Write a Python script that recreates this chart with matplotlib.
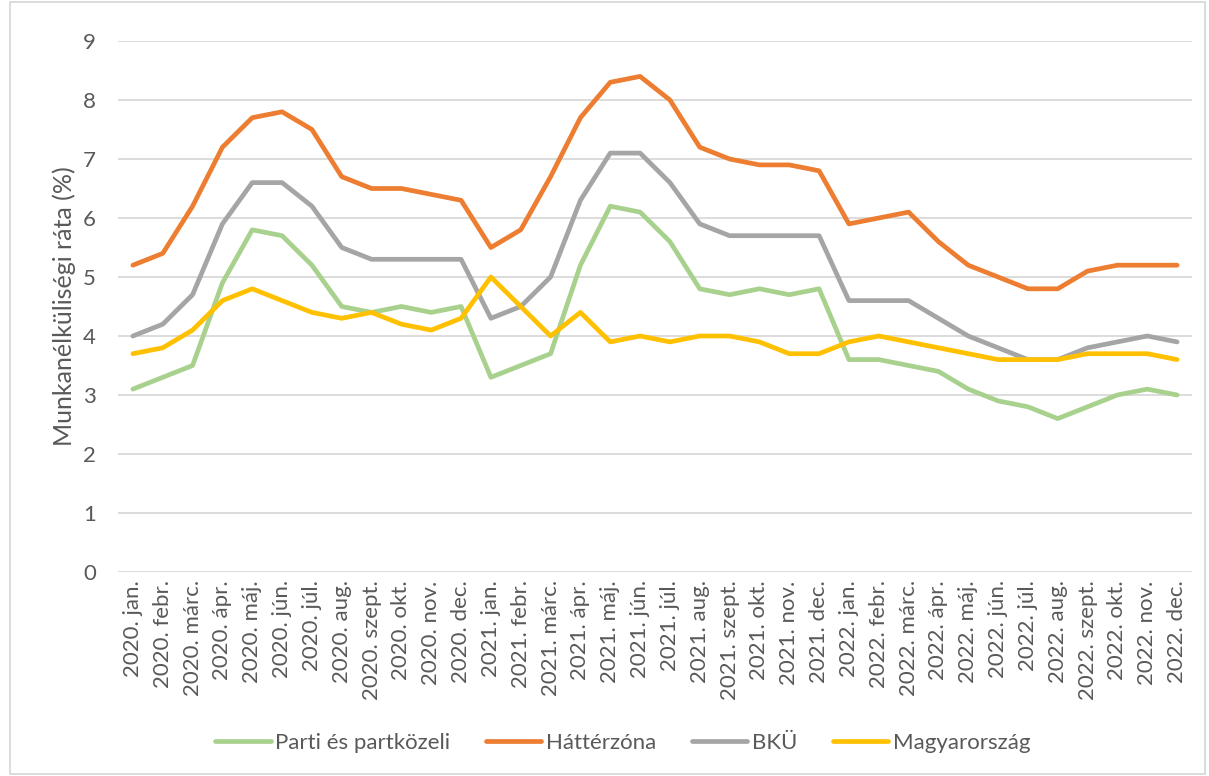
import matplotlib
matplotlib.use("Agg")
import matplotlib.pyplot as plt
from matplotlib.patches import Rectangle

plt.rcParams['font.family'] = ['Lato', 'DejaVu Sans']

months = ["jan.", "febr.", "márc.", "ápr.", "máj.", "jún.", "júl.", "aug.",
          "szept.", "okt.", "nov.", "dec."]
categories = [f"{y}. {m}" for y in (2020, 2021, 2022) for m in months]

parti = [3.1, 3.3, 3.5, 4.9, 5.8, 5.7, 5.2, 4.5, 4.4, 4.5, 4.4, 4.5,
         3.3, 3.5, 3.7, 5.2, 6.2, 6.1, 5.6, 4.8, 4.7, 4.8, 4.7, 4.8,
         3.6, 3.6, 3.5, 3.4, 3.1, 2.9, 2.8, 2.6, 2.8, 3.0, 3.1, 3.0]
hatter = [5.2, 5.4, 6.2, 7.2, 7.7, 7.8, 7.5, 6.7, 6.5, 6.5, 6.4, 6.3,
          5.5, 5.8, 6.7, 7.7, 8.3, 8.4, 8.0, 7.2, 7.0, 6.9, 6.9, 6.8,
          5.9, 6.0, 6.1, 5.6, 5.2, 5.0, 4.8, 4.8, 5.1, 5.2, 5.2, 5.2]
bku = [4.0, 4.2, 4.7, 5.9, 6.6, 6.6, 6.2, 5.5, 5.3, 5.3, 5.3, 5.3,
       4.3, 4.5, 5.0, 6.3, 7.1, 7.1, 6.6, 5.9, 5.7, 5.7, 5.7, 5.7,
       4.6, 4.6, 4.6, 4.3, 4.0, 3.8, 3.6, 3.6, 3.8, 3.9, 4.0, 3.9]
magyar = [3.7, 3.8, 4.1, 4.6, 4.8, 4.6, 4.4, 4.3, 4.4, 4.2, 4.1, 4.3,
          5.0, 4.5, 4.0, 4.4, 3.9, 4.0, 3.9, 4.0, 4.0, 3.9, 3.7, 3.7,
          3.9, 4.0, 3.9, 3.8, 3.7, 3.6, 3.6, 3.6, 3.7, 3.7, 3.7, 3.6]

series = [("Parti és partközeli", parti, "#A9D18E"),
          ("Háttérzóna", hatter, "#ED7D31"),
          ("BKÜ", bku, "#A5A5A5"),
          ("Magyarország", magyar, "#FFC000")]

TXT = "#595959"
fig = plt.figure(figsize=(12.09, 7.76), dpi=100)
ax = fig.add_axes([118/1209, 1-572/776, (1192-118)/1209, (572-41)/776])

x = list(range(len(categories)))
for name, vals, col in series:
    ax.plot(x, vals, color=col, lw=3.4, label=name, solid_capstyle='round',
            solid_joinstyle='round')

ax.set_xlim(-0.5, len(categories) - 0.5)
ax.set_ylim(0, 9)
ax.set_yticks(range(0, 10))
ax.yaxis.grid(True, color="#D9D9D9", lw=1.3)
ax.set_axisbelow(True)
for s in ax.spines.values():
    s.set_visible(False)
ax.set_xticks(x)
ax.set_xticklabels(categories, rotation=90, fontsize=16, color=TXT)
ax.tick_params(axis='both', length=0, colors=TXT)
ax.tick_params(axis='y', pad=16, labelsize=16)
ax.tick_params(axis='x', pad=6)
ax.set_ylabel("Munkanélküliségi ráta (%)", fontsize=18, color=TXT, labelpad=5)

leg = fig.legend(loc='center', bbox_to_anchor=(0.515, 1-743/776), ncol=4, frameon=False,
                 fontsize=16, handlelength=2.5, columnspacing=1.6, handletextpad=0.2)
for t in leg.get_texts():
    t.set_color(TXT)
for l in leg.get_lines():
    l.set_linewidth(3.4)

fig.patches.append(Rectangle((10/1209, 2/776), 1195/1209, 772/776, transform=fig.transFigure,
                             fill=False, edgecolor="#D9D9D9", lw=1.3))

fig.savefig("out.png", dpi=100)
